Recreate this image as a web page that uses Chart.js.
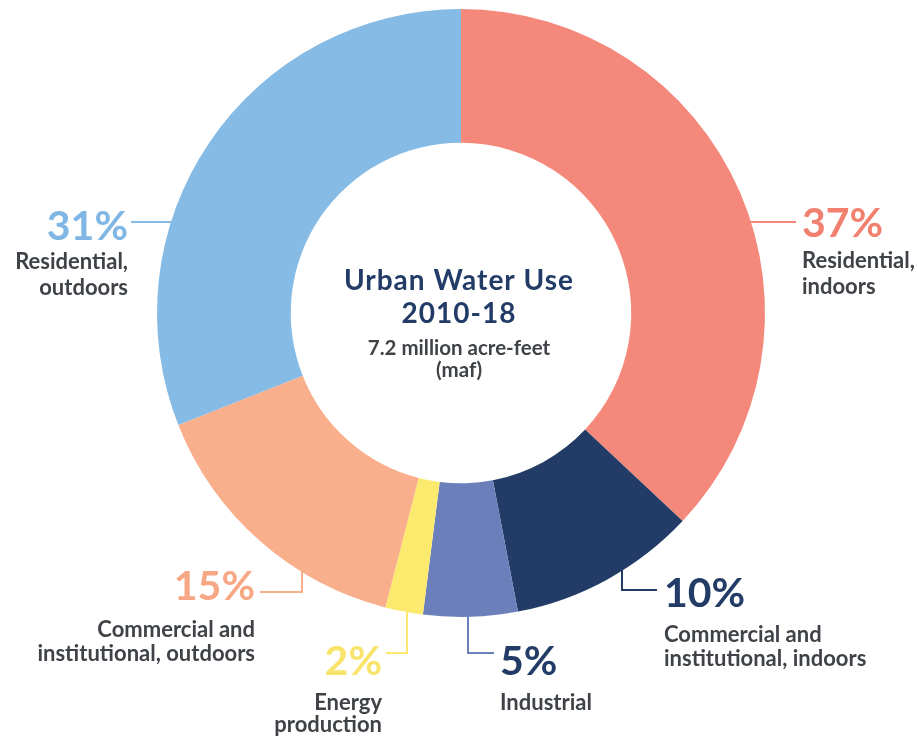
<!DOCTYPE html>
<html>
<head>
<meta charset="utf-8">
<script src="https://cdn.jsdelivr.net/npm/chart.js@4.4.1/dist/chart.umd.min.js"></script>
<style>
  html, body { margin: 0; padding: 0; background: #ffffff; }
  #wrap { width: 917px; height: 738px; position: relative; }
</style>
</head>
<body>
<div id="wrap"><canvas id="c"></canvas></div>
<script>
// ---- data ----
const categories = [
  "Residential, indoors",
  "Commercial and institutional, indoors",
  "Industrial",
  "Energy production",
  "Commercial and institutional, outdoors",
  "Residential, outdoors"
];
const shares = [37, 10, 5, 2, 15, 31];
const labelLines = [
  ["Residential,", "indoors"],
  ["Commercial and", "institutional, indoors"],
  ["Industrial"],
  ["Energy", "production"],
  ["Commercial and", "institutional, outdoors"],
  ["Residential,", "outdoors"]
];
const titleLines = ["Urban Water Use", "2010-18"];
const subtitleLines = ["7.2 million acre-feet", "(maf)"];

// ---- styles ----
const sliceColors = ["#F4897B", "#233C67", "#6B7FBB", "#FCEA6E", "#F9AF8C", "#85BBE5"];
const pctColors   = ["#F2806F", "#233C67", "#233C67", "#F8E46A", "#F7A784", "#7FB6E3"];
const textGray = "#3F4347";
const navy = "#233C67";

const labelLayout = [
  { align: "left",  x: 802, pctBase: 237, subBase: [268, 294], leader: "h", ly: 222, lx: 796, side: 1 },
  { align: "left",  x: 664, pctBase: 607, subBase: [642, 666], leader: "v", vx: 622, ly: 590, lx: 657 },
  { align: "left",  x: 500, pctBase: 675, subBase: [710], leader: "v", vx: 468, ly: 653, lx: 494 },
  { align: "right", x: 382, pctBase: 675, subBase: [710, 732], leader: "v", vx: 407, ly: 653, lx: 386 },
  { align: "right", x: 255, pctBase: 600, subBase: [637, 661], leader: "v", vx: 302, ly: 592, lx: 260 },
  { align: "right", x: 128, pctBase: 240, subBase: [269, 295], leader: "h", ly: 222, lx: 131, side: -1 }
];

const labelPlugin = {
  id: "calloutLabels",
  afterDraw(chart) {
    const ctx = chart.ctx;
    const meta = chart.getDatasetMeta(0);
    meta.data.forEach((arc, i) => {
      const L = labelLayout[i];
      const cx = arc.x, cy = arc.y, R = arc.outerRadius - 1;
      ctx.save();
      ctx.strokeStyle = sliceColors[i];
      ctx.lineWidth = 2;
      ctx.beginPath();
      if (L.leader === "h") {
        const dy = L.ly - cy;
        const ex = cx + L.side * Math.sqrt(R * R - dy * dy);
        ctx.moveTo(L.lx, L.ly);
        ctx.lineTo(ex, L.ly);
      } else {
        const dx = L.vx - cx;
        const ey = cy + Math.sqrt(R * R - dx * dx);
        ctx.moveTo(L.vx, ey);
        ctx.lineTo(L.vx, L.ly);
        ctx.lineTo(L.lx, L.ly);
      }
      ctx.stroke();

      ctx.textAlign = L.align;
      ctx.textBaseline = "alphabetic";
      ctx.fillStyle = pctColors[i];
      ctx.font = "bold 41px Lato";
      ctx.fillText(shares[i] + "%", L.x, L.pctBase);

      ctx.fillStyle = textGray;
      ctx.font = "bold 22px Lato";
      labelLines[i].forEach((t, k) => ctx.fillText(t, L.x, L.subBase[k]));
      ctx.restore();
    });

    // center text
    const a0 = meta.data[0];
    const cx = a0.x - 2;
    ctx.save();
    ctx.textAlign = "center";
    ctx.textBaseline = "alphabetic";
    ctx.fillStyle = navy;
    ctx.font = "bold 28px Lato";
    ctx.letterSpacing = "1px";
    ctx.fillText(titleLines[0], cx, 290);
    ctx.fillText(titleLines[1], cx, 323);
    ctx.letterSpacing = "0px";
    ctx.fillStyle = textGray;
    ctx.font = "bold 20.5px Lato";
    ctx.fillText(subtitleLines[0], cx, 355);
    ctx.fillText(subtitleLines[1], cx, 377);
    ctx.restore();
  }
};

new Chart(document.getElementById("c"), {
  type: "doughnut",
  data: {
    labels: categories,
    datasets: [{
      data: shares,
      backgroundColor: sliceColors,
      borderWidth: 0,
      hoverOffset: 0
    }]
  },
  options: {
    responsive: true,
    maintainAspectRatio: false,
    animation: false,
    cutout: "56%",
    layout: { padding: { left: 157, right: 152, top: 9, bottom: 121 } },
    plugins: {
      legend: { display: false },
      tooltip: { enabled: false }
    },
    events: []
  },
  plugins: [labelPlugin]
});
</script>
</body>
</html>
